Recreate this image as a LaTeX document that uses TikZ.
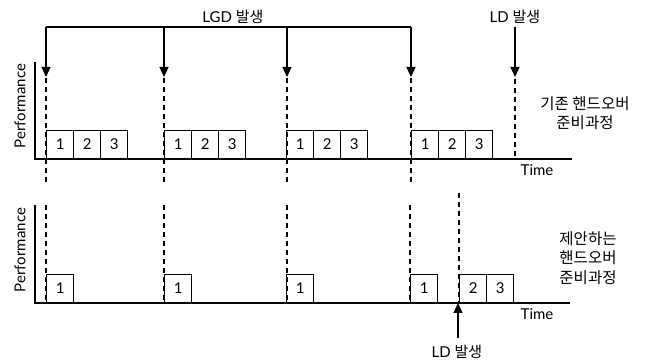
\documentclass[tikz,border=0pt]{standalone}
\usepackage{fontspec}
\setmainfont{Lato}
\newfontfamily\kr{Noto Sans CJK KR}
\usetikzlibrary{arrows.meta}
\tikzset{
  boxsty/.style={draw, line width=1.2pt, minimum width=27pt, minimum height=28pt, inner sep=0pt, anchor=south west, font=\fontsize{15}{15}\selectfont},
  axis/.style={line width=1.3pt},
  dash line/.style={line width=1.1pt, dash pattern=on 5pt off 4pt},
  evarrow/.style={line width=1.2pt, -{Triangle[width=9pt,length=10pt]}},
  lab/.style={font=\fontsize{15}{15}\selectfont, inner sep=0pt},
  rlab/.style={font=\kr\fontsize{15.5}{19.5}\selectfont, align=center, inner sep=0pt},
}
\begin{document}
\begin{tikzpicture}[x=1pt,y=-1pt]
\useasboundingbox (0,0) rectangle (651,363);
% ---------- top panel ----------
\coordinate (yt) at (35,62);
\coordinate (o1) at (35,159);
\coordinate (xt) at (572,159);
\draw[axis] (yt) -- (o1) -- (xt);
\node[lab, rotate=90] (perf1) at (20,106) {Performance};
\node[lab] (time1) at (537,170) {Time};
% LGD arrows
\coordinate (g1) at (46,27);
\coordinate (g2) at (164,27);
\coordinate (g3) at (287,27);
\coordinate (g4) at (411,27);
\coordinate (a1) at (46,77);
\coordinate (a2) at (164,77);
\coordinate (a3) at (287,77);
\coordinate (a4) at (411,77);
\draw[line width=1.2pt] (g1) -- (g4);
\foreach \i in {1,2,3,4} \draw[evarrow] (g\i) -- (a\i);
\node[lab] (lgd) at (233,17) {LGD {\kr 발생}};
\node[lab] (ld1) at (515,17) {LD {\kr 발생}};
\coordinate (l1s) at (515,27);
\coordinate (l1e) at (515,77);
\draw[evarrow] (l1s) -- (l1e);
% top dashed
\foreach \x in {46,164,287,411} {
  \coordinate (dt\x) at (\x,78);
  \coordinate (db\x) at (\x,183);
  \draw[dash line] (dt\x) -- (db\x);
}
\coordinate (dt515) at (515,79);
\coordinate (db515) at (515,157);
\draw[dash line] (dt515) -- (db515);
% top boxes
\foreach \x/\n in {46/A,164/B,286/C,411/D} {
  \node[boxsty] (\n1) at (\x,159) {1};
  \node[boxsty] (\n2) at (\x+27,159) {2};
  \node[boxsty] (\n3) at (\x+54,159) {3};
}
\node[rlab] (lab1) at (585,113) {기존 핸드오버\\준비과정};
% ---------- bottom panel ----------
\coordinate (yb) at (35,205);
\coordinate (o2) at (35,303);
\coordinate (xb) at (570,303);
\draw[axis] (yb) -- (o2) -- (xb);
\node[lab, rotate=90] (perf2) at (20,250) {Performance};
\node[lab] (time2) at (537,314) {Time};
\foreach \x in {46,164,287,410} {
  \coordinate (et\x) at (\x,205);
  \coordinate (eb\x) at (\x,303);
  \draw[dash line] (et\x) -- (eb\x);
}
\coordinate (et459) at (459,193);
\coordinate (eb459) at (459,303);
\draw[dash line] (et459) -- (eb459);
\foreach \x/\n in {46/P,164/Q,286/R,410/S} {
  \node[boxsty] (\n1) at (\x,303) {1};
}
\node[boxsty] (T2) at (459,303) {2};
\node[boxsty] (T3) at (486,303) {3};
\coordinate (l2s) at (458,338);
\coordinate (l2e) at (458,303);
\draw[evarrow] (l2s) -- (l2e);
\node[lab] (ld2) at (457,352) {LD {\kr 발생}};
\node[rlab] (lab2) at (588,258) {제안하는\\핸드오버\\준비과정};
\end{tikzpicture}
\end{document}
